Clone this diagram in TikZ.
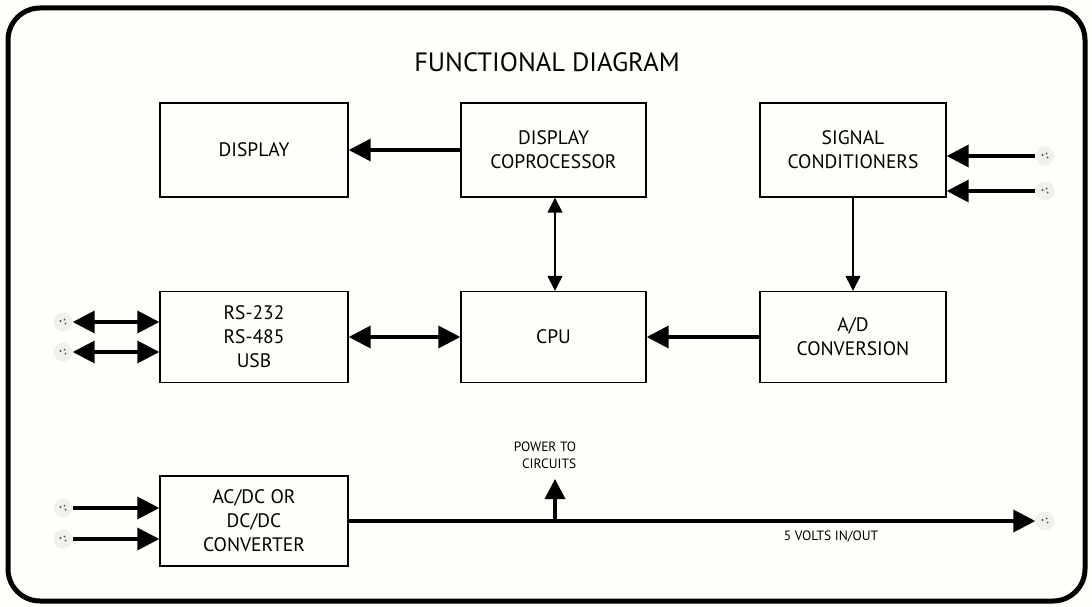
\documentclass[tikz,border=0pt]{standalone}
\usepackage{fontspec}
\setmainfont{PT Sans}
\usetikzlibrary{arrows.meta}

\definecolor{paper}{RGB}{255,255,250}
\definecolor{termfill}{RGB}{240,240,238}

\tikzset{
	blockbox/.style={draw, line width=1.4pt, fill=paper, inner sep=0pt, minimum width=186pt, minimum height=94pt, align=center, font=\fontsize{19.5}{24}\selectfont},
	term/.style={circle, fill=termfill, inner sep=0pt, minimum size=19pt,
		path picture={\fill[black!70] ([shift={(-2.5pt,1pt)}]path picture bounding box.center) circle (1.2pt);
			\fill[black!70] ([shift={(1.5pt,2.5pt)}]path picture bounding box.center) circle (1pt);
			\fill[black!70] ([shift={(2.5pt,-1.5pt)}]path picture bounding box.center) circle (1pt);}},
	fat/.style={line width=3.6pt, -{Triangle[length=22pt,width=22pt]}},
	fatboth/.style={line width=3.6pt, {Triangle[length=22pt,width=22pt]}-{Triangle[length=22pt,width=22pt]}},
	slim/.style={line width=1.5pt, -{Triangle[length=15pt,width=15pt]}},
	slimboth/.style={line width=1.5pt, {Triangle[length=15pt,width=15pt]}-{Triangle[length=15pt,width=15pt]}},
	small/.style={font=\fontsize{13.5}{17}\selectfont, align=right}
}

\begin{document}
\begin{tikzpicture}[x=1pt, y=-1pt]

	\fill[paper] (0,0) rectangle (1092,607);
	\useasboundingbox (0,0) rectangle (1092,607);
	\draw[line width=5pt, rounded corners=32pt] (8,8) rectangle (1085,601);

	\node 	(title)	at	(547,62)	[font=\fontsize{26.5}{30}\selectfont]{FUNCTIONAL DIAGRAM};

	% top row
	\node 	(disp)	at	(254,150)	[blockbox, minimum width=188pt]{DISPLAY};
	\node 	(copro)	at	(553.5,150)	[blockbox, minimum width=185pt]{DISPLAY\\COPROCESSOR};
	\node 	(sig)	at	(853,150)	[blockbox]{SIGNAL\\CONDITIONERS};

	% middle row
	\node 	(com)	at	(254,337)	[blockbox, minimum width=188pt, minimum height=91pt]{RS-232\\RS-485\\USB};
	\node 	(cpu)	at	(553.5,337)	[blockbox, minimum width=185pt, minimum height=91pt]{CPU};
	\node 	(adc)	at	(853,337)	[blockbox, minimum height=91pt]{A/D\\CONVERSION};

	% power
	\node 	(conv)	at	(254,521)	[blockbox, minimum width=188pt, minimum height=90pt]{AC/DC OR\\DC/DC\\CONVERTER};

	% terminals
	\node 	(t1)	at	(63,322)	[term]{};
	\node 	(t2)	at	(63,352)	[term]{};
	\node 	(t3)	at	(63,508)	[term]{};
	\node 	(t4)	at	(63,539)	[term]{};
	\node 	(t5)	at	(1045,156)	[term]{};
	\node 	(t6)	at	(1045,191)	[term]{};
	\node 	(t7)	at	(1045,521)	[term]{};

	\coordinate	(tap)	at	(555,521);
	\coordinate	(up)	at	(555,479);
	\node 	(pwr)	at	(545,455)	[small]{POWER TO\\CIRCUITS};
	\node 	(volts)	at	(831,537)	[small]{5 VOLTS IN/OUT};

	\draw[fat]	(copro.west |- disp.east)	to	(disp.east);
	\draw[slimboth]	(copro.south -| tap)	to	(cpu.north -| tap);
	\draw[slim]	(sig)	to	(adc);
	\draw[fat]	(adc.west)	to	(cpu.east);
	\draw[fatboth]	(com.east)	to	(cpu.west);

	\draw[fatboth]	(t1.east)	to	(com.west |- t1);
	\draw[fatboth]	(t2.east)	to	(com.west |- t2);
	\draw[fat]	(t5.west)	to	(sig.east |- t5);
	\draw[fat]	(t6.west)	to	(sig.east |- t6);

	\draw[fat]	(t3.east)	to	(conv.west |- t3);
	\draw[fat]	(t4.east)	to	(conv.west |- t4);
	\draw[fat]	(conv.east)	to	(t7.west);
	\draw[line width=3.6pt, -{Triangle[length=20pt,width=20pt]}]	(tap)	to	(up);

\end{tikzpicture}
\end{document}
